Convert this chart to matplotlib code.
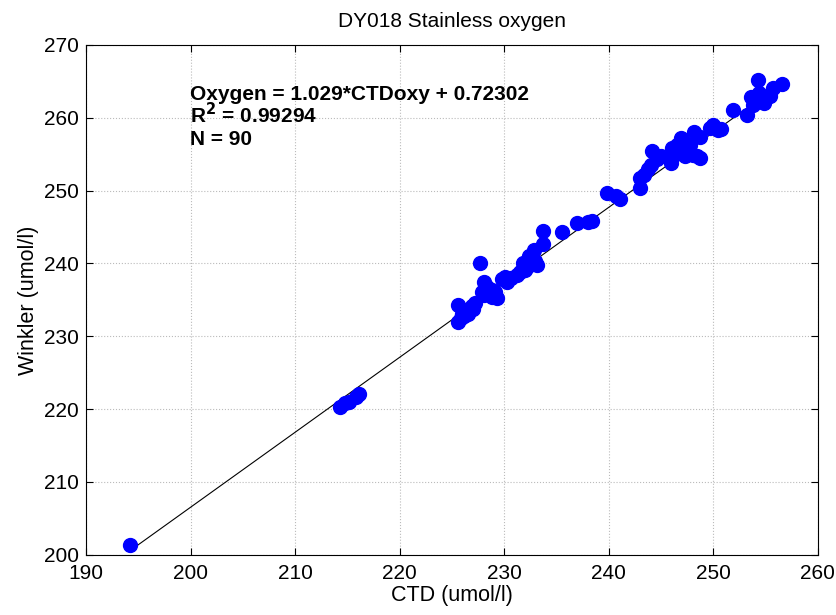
import matplotlib
matplotlib.use('Agg')
import matplotlib.pyplot as plt
import numpy as np

plt.rcParams['font.family'] = ['Liberation Sans', 'DejaVu Sans']

# CTD oxygen vs Winkler (umol/l)
ctd = [194.2,
       214.3, 214.8, 215.2, 215.8, 216.1,
       225.6, 225.9, 226.0, 226.4, 226.5, 225.6, 226.9, 227.2, 227.9, 228.1,
       228.8, 228.4, 228.8, 229.1, 228.1, 227.7, 229.8, 230.1, 230.3, 230.7,
       232.0, 231.8, 232.2, 233.1, 232.4, 232.9, 233.7, 233.7, 235.5, 237.0,
       238.0, 238.4, 229.3, 231.2, 233.0,
       239.8, 240.7, 241.1,
       243.0, 243.0, 243.4, 243.8, 244.1, 244.2, 244.6,
       246.0, 246.3, 246.1, 246.5, 246.9, 247.1, 246.8, 247.6, 247.3, 248.1,
       248.5, 248.7, 248.2, 248.7, 247.8,
       249.7, 250.0, 250.5, 250.8,
       251.9, 253.2,
       253.6, 254.4, 255.1, 254.1, 254.9, 253.8, 254.3, 256.6, 255.7, 255.4,
       226.2, 227.0, 228.5, 232.6, 247.0, 245.0, 254.6, 231.5]
winkler = [201.3,
           220.3, 220.8, 221.0, 221.6, 222.0,
           232.0, 232.5, 233.0, 233.6, 233.0, 234.3, 234.1, 234.6, 236.1, 235.7,
           235.4, 236.8, 236.4, 236.1, 237.5, 240.1, 237.8, 238.2, 237.5, 238.0,
           239.1, 240.1, 239.5, 239.8, 241.0, 241.9, 242.6, 244.4, 244.3, 245.6,
           245.7, 245.8, 235.2, 238.4, 240.3,
           249.7, 249.2, 248.8,
           251.7, 250.3, 252.2, 252.9, 253.5, 255.4, 254.3,
           253.8, 254.9, 255.8, 256.3, 257.2, 256.5, 255.6, 255.1, 254.7, 254.9,
           254.7, 254.5, 258.1, 257.4, 256.2,
           258.6, 259.0, 258.3, 258.5,
           261.1, 260.4,
           262.9, 263.4, 262.7, 262.2, 262.0, 261.8, 265.2, 264.6, 264.1, 263.0,
           232.8, 233.8, 235.9, 240.5, 255.3, 254.8, 262.6, 238.8]

slope = 1.029
intercept = 0.72302
r2 = 0.99294

fig = plt.figure(figsize=(8.36, 6.15), dpi=100)
ax = fig.add_axes([0.103, 0.098, 0.875, 0.829])

xl = np.array([min(ctd), max(ctd)])
ax.plot(xl, slope * xl + intercept, color='black', lw=0.8, zorder=2)
ax.scatter(ctd, winkler, s=100, color='#0000FF', zorder=3)

ax.set_xlim(190, 260)
ax.set_ylim(200, 270)
ax.set_xticks(np.arange(190, 261, 10))
ax.set_yticks(np.arange(200, 271, 10))
ax.tick_params(direction='in', top=True, right=True, labelsize=15, length=5)
ax.tick_params(axis='x', pad=7)
ax.tick_params(axis='y', pad=5)
ax.grid(True, linestyle=':', color='#bbbbbb', lw=0.8)

ax.set_title('DY018 Stainless oxygen', fontsize=15, pad=13)
ax.set_xlabel('CTD (umol/l)', fontsize=15.5, labelpad=1)
ax.set_ylabel('Winkler (umol/l)', fontsize=15.5, labelpad=4)

ax.text(199.9, 262.5, 'Oxygen = %.3f*CTDoxy + %.5f' % (slope, intercept),
        fontsize=15, fontweight='bold', va='baseline')
ax.text(199.9, 259.3, r'R$^{\mathbf{2}}$ = %.5f' % r2,
        fontsize=15, fontweight='bold', va='baseline')
ax.text(199.9, 256.3, 'N = %d' % len(ctd),
        fontsize=15, fontweight='bold', va='baseline')

plt.savefig('out.png', dpi=100)
